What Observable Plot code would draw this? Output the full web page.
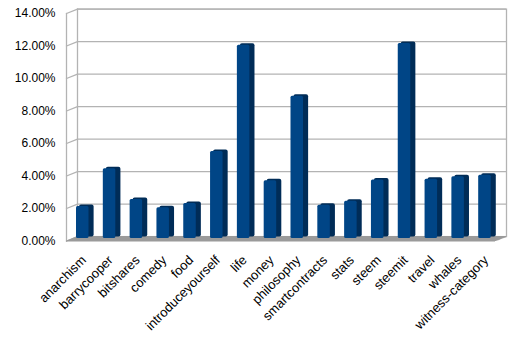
<!DOCTYPE html>
<html>
<head>
<meta charset="utf-8">
<script src="https://cdn.jsdelivr.net/npm/d3@7"></script>
<script src="https://cdn.jsdelivr.net/npm/@observablehq/plot@0.6"></script>
<style>
  html, body { margin: 0; padding: 0; background: #fff; }
</style>
</head>
<body>
<div id="chart"></div>
<script>
const categories = ["anarchism","barrycooper","bitshares","comedy","food","introduceyourself","life","money","philosophy","smartcontracts","stats","steem","steemit","travel","whales","witness-category"];
const shares = [1.97, 4.3, 2.4, 1.9, 2.15, 5.35, 11.9, 3.55, 8.75, 2.05, 2.3, 3.6, 12.0, 3.65, 3.8, 3.9];
const yTicks = [0, 2, 4, 6, 8, 10, 12, 14];

const data = categories.map((c, i) => ({category: c, value: shares[i]}));

const gridColor = "#b3b3b3";
const front = "#004586";
const side = "#002c57";

// depth offset of the back wall (style)
const depthX = 11, depthY = -4.4;
const vecLen = Math.hypot(depthX, depthY);
const vecRot = Math.atan2(depthX, -depthY) * 180 / Math.PI;

const floorMarks = [];
for (let i = 0; i <= 9; i++) {
  floorMarks.push(Plot.ruleY([0], {
    stroke: "#9a9a9a", strokeWidth: 1.2,
    dx: depthX * i / 9, dy: depthY * i / 9
  }));
}

const chart = Plot.plot({
  width: 519,
  height: 340,
  marginLeft: 66,
  marginRight: 24,
  marginTop: 13,
  marginBottom: 99.5,
  style: {fontFamily: "'Liberation Sans', Arial, sans-serif", fontSize: "12px", color: "#000", background: "#fff"},
  x: {domain: categories, padding: 0, round: false, label: null},
  y: {domain: [0, 14], label: null},
  marks: [
    // back wall
    Plot.frame({stroke: gridColor, strokeWidth: 1.3, dx: depthX, dy: depthY}),
    Plot.ruleY(yTicks, {stroke: gridColor, strokeWidth: 1.3, dx: depthX, dy: depthY}),
    // left wall
    Plot.frame({anchor: "left", stroke: gridColor, strokeWidth: 1.3}),
    Plot.vector(yTicks, {
      y: d => d, frameAnchor: "left", anchor: "start",
      length: vecLen, rotate: vecRot,
      shape: {draw(context, l) { context.moveTo(0, 0); context.lineTo(0, -l); }},
      stroke: gridColor, strokeWidth: 1.3
    }),
    // floor
    ...floorMarks,
    // bars: side face (behind) then front face
    Plot.barY(data, {x: "category", y: "value", fill: side, insetLeft: 13, insetRight: -0.8, dy: -4, rx: 2}),
    Plot.barY(data, {x: "category", y: "value", fill: front, insetLeft: 10, insetRight: 4.3, dy: -2.5, rx: 1.5}),
    Plot.axisY(yTicks, {tickSize: 0, tickPadding: 11, tickFormat: d => d.toFixed(2) + "%", fill: "#000", label: null}),
    Plot.axisX({tickSize: 0, tickPadding: 17, tickRotate: -45, dx: 4, fontSize: 13, fill: "#000", label: null})
  ]
});

document.getElementById("chart").appendChild(chart);
</script>
</body>
</html>
